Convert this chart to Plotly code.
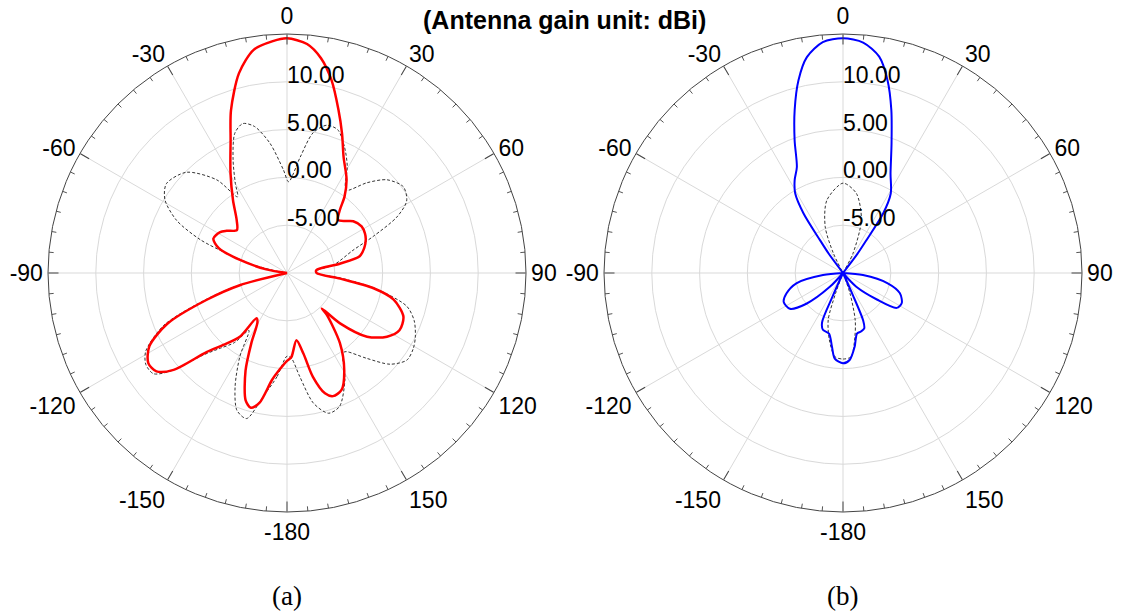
import plotly.graph_objects as go

# ---------------- data (gain in dBi vs angle in degrees) ----------------
# (a) co-polar (red, solid)
theta_a_co = [-180, -175, -172, -168, -165, -162, -157, -153, -149, -146, -143.5, -138.5, -134.5,
              -130.5, -127, -123, -118, -113, -108.5, -104.5, -103, -90, -81, -80, -74.5, -70, -65,
              -58.5, -55, -49.5, -43.5, -36.5, -29.5, -23, -19, -13.5, -8.5, -3.5, 0, 5, 9, 13, 17.5,
              21.5, 26, 32.5, 37, 40, 44, 49, 52, 58, 63, 67, 72, 77, 80, 84, 90, 96, 100, 104, 110.5,
              117, 122.5, 128.5, 133.5, 135.5, 136.5, 143, 149.5, 155, 159.5, 162.5, 166, 168.5, 172,
              177, 180]
gain_a_co = [-0.8, 0.3, 1.3, 3.9, 4.6, 4.0, 1.1, -1.8, -4.0, -4.3, -1.7, 0.05, 1.8,
             5.6, 7.1, 7.3, 6.3, 3.6, -1.1, -4.9, -10, -10, -10, -7.8, -4.9, -2.4, -1.5,
             -1.8, -2.3, -3.1, -2.35, -0.5, 2.0, 5.1, 8.0, 11.5, 13.6, 14.3, 14.55, 14.05, 12.75, 10.7, 7.9,
             5.7, 3.5, 1.6, 0.0, -1.4, -2.3, -1.7, -1.2, -0.8, -0.85, -1.05, -1.5, -2.2, -4.4, -6.9, -6.9,
             -4.4, -0.8, 1.5, 3.0, 3.2, 2.4, 0.7, -2.35, -4.8, -3.95, -0.8, 1.8, 3.5, 3.75, 3.2, 1.2, -1.4,
             -2.9, -1.2, -0.8]

# (a) cross-polar (grey, dashed)
theta_a_x = [-180, -174.5, -169, -164.5, -160, -155.5, -150.5, -146.5, -143, -138.5, -134.5, -130,
             -127, -123, -119, -113, -108.5, -104.5, -103, -90, -81, -80, -76.5, -72, -69, -64.5, -59,
             -53.5, -45, -37, -33, -30, -25.5, -20.5, -16.5, -12.5, -7.5, -2, 1, 6.5, 10.5, 15, 19.5,
             24.5, 29.5, 34, 36, 41.5, 47, 53.5, 59, 63, 67, 71, 80, 85, 90, 95.5, 100, 105.5, 110.5,
             116.5, 121, 126, 131.5, 137, 143, 145, 151.5, 158.5, 163.5, 168.5, 173, 177, 180]
gain_a_x = [-1.3, 0.9, 3.2, 5.8, 5.3, 3.1, 0.0, -2.8, -0.9, 0.5, 2.2, 6.0,
            7.5, 7.6, 6.9, 4.0, -0.7, -4.6, -10, -10, -10, -9.0, -6.4, -3.4, -0.3, 2.8, 4.9,
            5.7, 4.9, 2.2, -0.5, 0.8, 3.1, 5.6, 6.3, 5.7, 3.7, 0.8, -0.45, 2.2, 4.9, 6.0, 5.9,
            4.5, 2.8, 0.9, 0.7, 2.6, 4.3, 5.15, 4.6, 2.9, -0.2, -2.7, -5.0, -6.8, -7.0, -4.3, -0.6, 3.0, 4.2,
            5.0, 5.4, 5.5, 4.4, 2.2, 0.3, 0.2, 2.7, 5.0, 5.3, 3.9, 0.9, -1.06, -1.3]

# (b) co-polar (blue, solid)
theta_b_co = [-180, -174.5, -171.5, -167, -160.5, -157, -156, -154, -137, -136.5, -130, -124, -116,
              -110, -102.5, -96, -93, -39, -36.5, -35, -33.5, -31, -27.5, -23.5, -20, -16.5, -13, -9.5,
              -5, 0, 5, 9.5, 13, 16.5, 20.5, 25.5, 31, 34, 35.5, 37, 39, 93, 96, 103, 109.5, 117, 123,
              128, 136, 138, 154, 156, 157, 159, 163, 167, 171, 175.5, 180]
gain_b_co = [-0.55, -1.0, -2.2, -3.5, -3.7, -4.4, -7.3, -10, -10, -8.0, -5.0, -3.3, -3.1,
             -3.7, -5.0, -7.9, -10, -10, -7.5, -5.8, -2.5, -0.3, 0.95, 2.1, 4.8, 7.8, 10.7, 12.9,
             14.25, 14.55, 14.2, 12.95, 10.7, 7.8, 4.5, 1.55, -0.3, -2.5, -5.75, -7.5, -10, -10, -7.9, -5.2,
             -3.7, -3.1, -3.3, -5.5, -8.0, -10, -10, -7.5, -4.6, -3.8, -3.6, -3.5, -2.2, -0.9, -0.55]

# (b) cross-polar (grey, dashed)
theta_b_x = [-180, -174.5, -168.5, -162.5, -160, -158, -28, -26, -21, -12.5, 0, 9.5, 19, 27, 29,
             158, 161, 165.5, 169.5, 174.5, 180]
gain_b_x = [-1.0, -1.2, -2.85, -4.85, -7.7, -10, -10, -7.7, -4.8, -2.2, -0.6, -1.55, -4.1, -7.7, -10,
            -10, -7.75, -4.9, -3.2, -1.2, -1.0]

angle_ticks = [0, 30, 60, 90, 120, 150, 180, 210, 240, 270, 300, 330]
angle_labels = ["0", "30", "60", "90", "120", "150", "-180", "-150", "-120", "-90", "-60", "-30"]
radial_ticks = [-5, 0, 5, 10]
radial_labels = ["-5.00", "0.00", "5.00", "10.00"]
R_MIN, R_MAX = -10, 15
MINOR_STEP = 5

for t, g in [(theta_a_co, gain_a_co), (theta_a_x, gain_a_x), (theta_b_co, gain_b_co), (theta_b_x, gain_b_x)]:
    assert len(t) == len(g), (len(t), len(g))

FONT = "Liberation Sans, Arial, sans-serif"
SERIF = "Liberation Serif, Times New Roman, serif"

fig = go.Figure()


def add_panel(sub, th_co, g_co, th_x, g_x, color, width):
    # minor tick marks (every 5 degrees) just inside the outer circle
    mr, mt = [], []
    for a in range(0, 360, MINOR_STEP):
        if a % 30:
            mr += [R_MAX, R_MAX - 0.5, None]
            mt += [a, a, None]
    fig.add_trace(go.Scatterpolar(r=mr, theta=mt, mode="lines", subplot=sub,
                                  line=dict(color="#555555", width=1), hoverinfo="skip",
                                  showlegend=False))
    fig.add_trace(go.Scatterpolar(r=g_x, theta=th_x, mode="lines", subplot=sub,
                                  line=dict(color="#333333", width=1, dash="3px,2px", shape="spline",
                                            smoothing=0.8),
                                  showlegend=False))
    fig.add_trace(go.Scatterpolar(r=g_co, theta=th_co, mode="lines", subplot=sub,
                                  line=dict(color=color, width=width, shape="spline", smoothing=0.8),
                                  showlegend=False))
    # radial tick labels, baseline resting on each grid circle along the 0-degree spoke
    fig.add_trace(go.Scatterpolar(r=radial_ticks, theta=[0] * len(radial_ticks), mode="text",
                                  text=['<span style="font-size:23px">%s</span>' % s for s in radial_labels],
                                  textposition="middle right", subplot=sub, cliponaxis=False,
                                  textfont=dict(family=FONT, size=4, color="black"),
                                  hoverinfo="skip", showlegend=False))


add_panel("polar", theta_a_co, gain_a_co, theta_a_x, gain_a_x, "#ff0000", 2.5)
add_panel("polar2", theta_b_co, gain_b_co, theta_b_x, gain_b_x, "#0000ff", 2)

W, H = 1121, 613
cy, rad = 273, 239


def polar_layout(cx):
    return dict(
        domain=dict(x=[(cx - rad) / W, (cx + rad) / W], y=[(H - cy - rad) / H, (H - cy + rad) / H]),
        bgcolor="white",
        radialaxis=dict(range=[R_MIN, R_MAX], tickvals=radial_ticks, showticklabels=False,
                        showline=False, ticks="", gridcolor="#d9d9d9", gridwidth=1),
        angularaxis=dict(direction="clockwise", rotation=90, tickvals=angle_ticks,
                         ticktext=angle_labels, ticks="inside", ticklen=10, tickcolor="#444444",
                         tickwidth=1, showline=True, linecolor="#444444", linewidth=1,
                         gridcolor="#d9d9d9", gridwidth=1,
                         tickfont=dict(family=FONT, size=23, color="black")),
    )


fig.update_layout(
    width=W, height=H,
    margin=dict(l=0, r=0, t=0, b=0),
    paper_bgcolor="white",
    polar=polar_layout(287),
    polar2=polar_layout(843),
    showlegend=False,
    annotations=[
        dict(text="<b>(Antenna gain unit: dBi)</b>", x=564 / W, y=1 - 20 / H, xref="paper", yref="paper",
             showarrow=False, xanchor="center", yanchor="middle",
             font=dict(family=FONT, size=25, color="black")),
        dict(text="(a)", x=287 / W, y=1 - 596 / H, xref="paper", yref="paper", showarrow=False,
             xanchor="center", yanchor="middle", font=dict(family=SERIF, size=27, color="black")),
        dict(text="(b)", x=843 / W, y=1 - 596 / H, xref="paper", yref="paper", showarrow=False,
             xanchor="center", yanchor="middle", font=dict(family=SERIF, size=27, color="black")),
    ],
)

fig.write_html("out.html")
